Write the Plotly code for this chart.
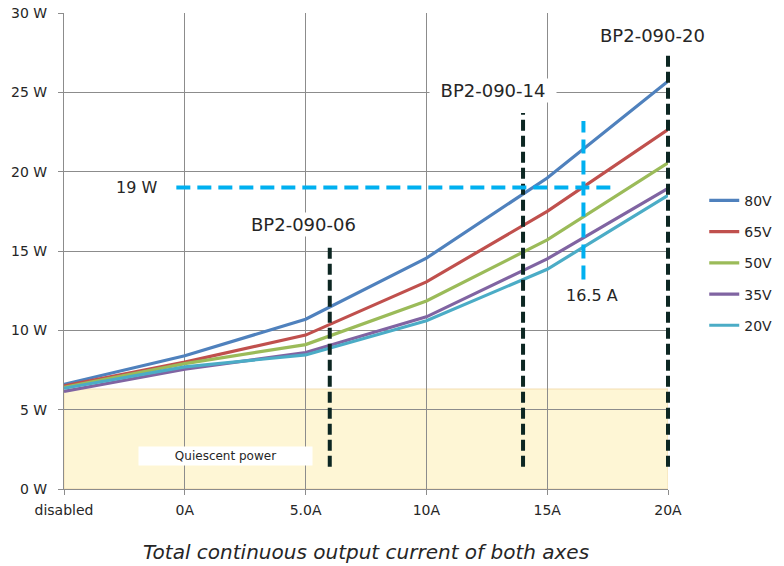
import plotly.graph_objects as go

# ── data ─────────────────────────────────────────────
CATEGORIES = ["disabled", "0A", "5.0A", "10A", "15A", "20A"]
CAT_POS = [0, 1, 2, 3, 4, 5]
X_RANGE = [0, 5]

SERIES_NAMES = ["80V", "65V", "50V", "35V", "20V"]
P_80V = [6.6, 8.4, 10.7, 14.55, 19.6, 25.7]
P_65V = [6.5, 8.0, 9.7, 13.05, 17.5, 22.65]
P_50V = [6.4, 7.9, 9.1, 11.85, 15.7, 20.55]
P_35V = [6.15, 7.55, 8.6, 10.85, 14.5, 18.95]
P_20V = [6.35, 7.7, 8.45, 10.6, 13.85, 18.5]
SERIES_VALUES = [P_80V, P_65V, P_50V, P_35V, P_20V]

Y_TICKS = [0, 5, 10, 15, 20, 25, 30]
Y_TICKTEXT = ["0 W", "5 W", "10 W", "15 W", "20 W", "25 W", "30 W"]

QUIESCENT_W = 6.3

# drive models: label, rated amps, top of dashed marker (W)
DRIVES = ["BP2-090-06", "BP2-090-14", "BP2-090-20"]
DRIVE_AMPS = [6, 14, 20]
DRIVE_Y_TOP = [15.4, 23.7, 27.5]
DRIVE_Y_BOTTOM = 1.4

LIMIT_W = 19
LIMIT_A = 16.5

# ── style ────────────────────────────────────────────
COLORS = ["#4F81BD", "#C0504D", "#9BBB59", "#8064A2", "#4BACC6"]
GRID = "#8c8c8c"
TEXT = "#262626"
FONT = "DejaVu Sans, Verdana, sans-serif"
CYAN = "#00B0F0"
DARK = "#0c2622"


def amp_to_x(a):
    # current in A -> position on the category axis (0A sits at 1, 5 A per step)
    return 1 + a / 5.0


def x_to_domain(x):
    return (x - X_RANGE[0]) / (X_RANGE[1] - X_RANGE[0])


fig = go.Figure()

for name, vals, col in zip(SERIES_NAMES, SERIES_VALUES, COLORS):
    fig.add_trace(
        go.Scatter(
            x=CAT_POS,
            y=vals,
            name=name,
            mode="lines",
            line=dict(color=col, width=3.2),
            legendgroup=name,
        )
    )

# quiescent band
fig.add_shape(
    type="rect",
    x0=CAT_POS[0], x1=CAT_POS[-1], y0=0, y1=QUIESCENT_W,
    xref="x", yref="y",
    fillcolor="#FEF6D5",
    line=dict(color="#F3DDB0", width=1),
    layer="below",
)

# drive limit lines (x in domain units so the 20A one is not clipped at the edge)
for amps, ytop in zip(DRIVE_AMPS, DRIVE_Y_TOP):
    xd = x_to_domain(amp_to_x(amps))
    fig.add_shape(
        type="line",
        x0=xd, x1=xd, y0=DRIVE_Y_BOTTOM, y1=ytop,
        xref="x domain", yref="y",
        line=dict(color=DARK, width=4, dash="11px,5px"),
        layer="above",
    )

# 19 W / 16.5 A guides
fig.add_shape(
    type="line",
    x0=0.93, x1=4.54, y0=LIMIT_W, y1=LIMIT_W,
    xref="x", yref="y",
    line=dict(color=CYAN, width=4, dash="14px,7px"),
    layer="above",
)
fig.add_shape(
    type="line",
    x0=amp_to_x(LIMIT_A), x1=amp_to_x(LIMIT_A), y0=13.2, y1=23.2,
    xref="x", yref="y",
    line=dict(color=CYAN, width=4, dash="14px,7px"),
    layer="above",
)

annotations = [
    dict(x=0.6, y=LIMIT_W, text="19 W", font=dict(size=16, color=TEXT, family=FONT)),
    dict(x=4.37, y=12.2, text="16.5 A", font=dict(size=16, color=TEXT, family=FONT)),
    dict(x=1.34, y=2.1, text="Quiescent power", bgcolor="white", width=171, height=16,
         font=dict(size=12, color=TEXT, family=FONT)),
    dict(x=1.98, y=16.7, text=DRIVES[0], bgcolor="white",
         font=dict(size=18, color=TEXT, family=FONT)),
    dict(x=3.55, y=25.1, text=DRIVES[1], bgcolor="white", width=124,
         font=dict(size=18, color=TEXT, family=FONT)),
    dict(x=4.87, y=28.6, text=DRIVES[2], bgcolor="white",
         font=dict(size=18, color=TEXT, family=FONT)),
]
for a in annotations:
    fig.add_annotation(xref="x", yref="y", showarrow=False, **a)

fig.update_layout(
    width=784,
    height=566,
    paper_bgcolor="white",
    plot_bgcolor="white",
    font=dict(family=FONT, color=TEXT, size=14),
    margin=dict(l=64, r=116, t=13, b=77, autoexpand=False),
    showlegend=True,
    legend=dict(
        x=1.06, y=0.639, xanchor="left", yanchor="top",
        font=dict(size=14, color=TEXT, family=FONT),
        tracegroupgap=10,
        bgcolor="rgba(0,0,0,0)",
    ),
    xaxis=dict(
        range=X_RANGE,
        tickvals=CAT_POS,
        ticktext=CATEGORIES,
        showgrid=True,
        gridcolor=GRID,
        gridwidth=1,
        zeroline=False,
        showline=True,
        linecolor=GRID,
        ticks="outside",
        ticklen=5,
        tickcolor=GRID,
        tickfont=dict(size=14, color=TEXT, family=FONT),
        ticklabelstandoff=3,
        ticklabeloverflow="allow",
        automargin=False,
        title=dict(
            text="<i>Total continuous output current of both axes</i>",
            font=dict(size=20, color=TEXT, family=FONT),
            standoff=28,
        ),
        fixedrange=True,
    ),
    yaxis=dict(
        range=[0, 30],
        tickvals=Y_TICKS,
        ticktext=Y_TICKTEXT,
        showgrid=True,
        gridcolor=GRID,
        gridwidth=1,
        zeroline=False,
        showline=True,
        linecolor=GRID,
        ticks="outside",
        ticklen=5,
        tickcolor=GRID,
        tickfont=dict(size=14, color=TEXT, family=FONT),
        ticklabelstandoff=8,
        ticklabeloverflow="allow",
        automargin=False,
        fixedrange=True,
    ),
)

# drop the default 8px body margin so the figure fills the window exactly
fig.write_html(
    "out.html",
    config={"displayModeBar": False},
    post_script="document.body.style.margin = '0';",
)
